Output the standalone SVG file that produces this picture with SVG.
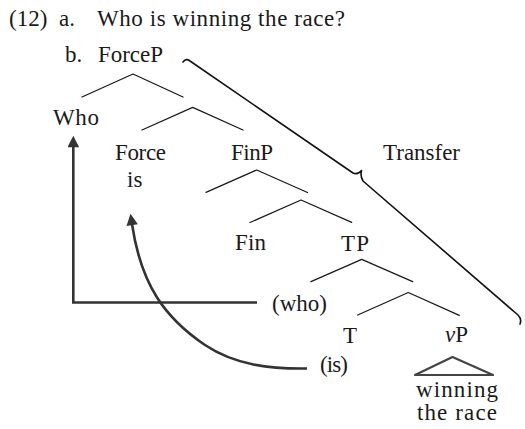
<svg xmlns="http://www.w3.org/2000/svg" width="525" height="429" viewBox="0 0 525 429">
<style>
text{font-family:"Liberation Serif","Times New Roman",serif;font-size:23px;fill:#1a1a1a}
.t{fill:none;stroke:#1a1a1a;stroke-width:1.3;stroke-linecap:round;stroke-linejoin:round}
.b{fill:none;stroke:#111;stroke-width:1.6;stroke-linecap:round;stroke-linejoin:round}
.a{fill:none;stroke:#333;stroke-width:2.6}
.tri{fill:none;stroke:#444;stroke-width:2.2;stroke-linejoin:round}
</style>
<defs>
<marker id="ah" viewBox="0 0 10 10" refX="1" refY="5" markerWidth="5" markerHeight="4.4" orient="auto" markerUnits="strokeWidth">
<path d="M0,0 L10,5 L0,10 z" fill="#333"/>
</marker>
</defs>
<rect width="525" height="429" fill="#ffffff"/>
<g id="title">
<text x="9" y="26">(12)</text>
<text x="59" y="26">a.</text>
<text x="97" y="26" textLength="248" lengthAdjust="spacing">Who is winning the race?</text>
</g>
<g id="forcep"><text x="65" y="62">b.</text><text x="98" y="62" textLength="65" lengthAdjust="spacing">ForceP</text></g>
<g id="who"><text x="53" y="125" textLength="46" lengthAdjust="spacing">Who</text></g>
<g id="force"><text x="115" y="160" textLength="51" lengthAdjust="spacing">Force</text><text x="127" y="187">is</text></g>
<g id="finp"><text x="231" y="160" textLength="42" lengthAdjust="spacing">FinP</text></g>
<g id="transfer"><text x="383" y="160" textLength="77" lengthAdjust="spacing">Transfer</text></g>
<g id="fin"><text x="235" y="250" textLength="31" lengthAdjust="spacing">Fin</text></g>
<g id="tp"><text x="341" y="251" textLength="28" lengthAdjust="spacing">TP</text></g>
<g id="who2"><text x="272" y="311" textLength="55" lengthAdjust="spacing">(who)</text></g>
<g id="t"><text x="343" y="343">T</text></g>
<g id="vp"><text x="445" y="342"><tspan font-style="italic">v</tspan>P</text></g>
<g id="is2"><text x="320" y="372" textLength="28" lengthAdjust="spacing">(is)</text></g>
<g id="vp-content">
<path class="tri" d="M415,375 L452.5,357 L493,375 Z"/>
<text x="416" y="397" textLength="82" lengthAdjust="spacing">winning</text>
<text x="417" y="420" textLength="80" lengthAdjust="spacing">the race</text>
</g>
<g id="connectors">
<path class="t" d="M82,97 L133,74 L183,97"/>
<path class="t" d="M142,130 L192.7,107.3 L243,130"/>
<path class="t" d="M206,192.3 L256.7,170 L307.5,192.5"/>
<path class="t" d="M250,222.5 L301,200 L351.7,222.3"/>
<path class="t" d="M311,281.7 L361.7,259.3 L412.7,281.7"/>
<path class="t" d="M357.7,315 L408.3,292.5 L459.3,315.3"/>
<path class="b" d="M183,62 Q186,58 190,61 L353,173 Q358,175 361.5,170.5 Q360,176 363,181 L518,315 Q522,319 520,324"/>
<path class="a" d="M257,302.5 L73.3,302.5 L73.3,146" marker-end="url(#ah)"/>
<path class="a" d="M307,368.5 C270,369 235,365 205,345 C165,318 141,285 132,224" marker-end="url(#ah)"/>
</g>
</svg>
